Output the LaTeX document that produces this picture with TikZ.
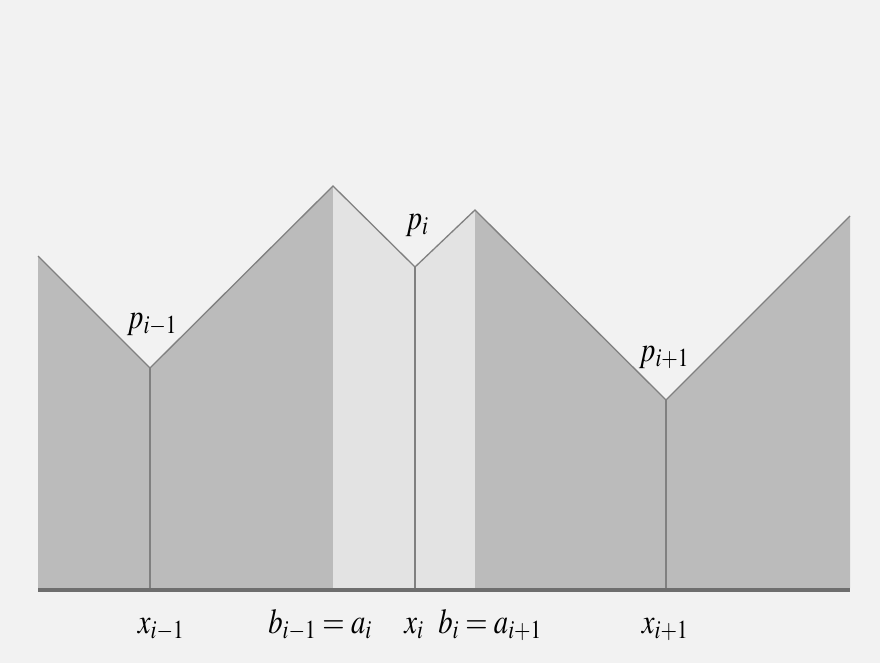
\documentclass[tikz,border=0pt]{standalone}
\usepackage{mathptmx}
\usepackage{graphicx}
\usepackage{tikz}
\usetikzlibrary{calc}
\usepackage{xcolor}
\definecolor{bggray}{RGB}{242,242,242}
\definecolor{darkfill}{RGB}{187,187,187}
\definecolor{lightfill}{RGB}{227,227,227}
\definecolor{edgegray}{RGB}{128,128,128}
\definecolor{axisgray}{RGB}{110,110,110}
\newcommand{\lbltext}[1]{\scalebox{0.82}[1]{$#1$}}
\tikzset{
  outline/.style={edgegray, line width=1.3pt, line join=miter},
  stem/.style={edgegray, line width=1.6pt},
  lbl/.style={anchor=base, inner sep=0pt, font=\fontsize{35}{40}\selectfont}
}

\begin{document}
\begin{tikzpicture}[x=1pt, y=-1pt]
  \fill[bggray] (0,0) rectangle (880,663);
  \useasboundingbox (0,0) rectangle (880,663);
  % vertices of the piecewise profile
  \coordinate (L) at (38,256);  \coordinate (pA) at (150,368);
  \coordinate (tA) at (333,186); \coordinate (pB) at (415,267);
  \coordinate (tB) at (475,210); \coordinate (pC) at (666,400);
  \coordinate (R) at (850,216);
  \coordinate (base) at (0,588);
  \fill[darkfill] (L |- base) -- (L) -- (pA) -- (tA) -- (tA |- base) -- cycle;
  \fill[lightfill] (tA |- base) -- (tA) -- (pB) -- (tB) -- (tB |- base) -- cycle;
  \fill[darkfill] (tB |- base) -- (tB) -- (pC) -- (R) -- (R |- base) -- cycle;
  \draw[outline] (L) -- (pA) -- (tA) -- (pB) -- (tB) -- (pC) -- (R);
  \foreach \v in {pA, pB, pC} {
    \draw[stem] (\v) -- (\v |- base);
  }
  \draw[axisgray, line width=4pt] (38,590) -- (850,590);
  % labels
  \node[lbl] (lpA) at (152,328) {\lbltext{p_{i-1}}};
  \node[lbl] (lpB) at (417,229) {\lbltext{p_{i}}};
  \node[lbl] (lpC) at (664,361) {\lbltext{p_{i+1}}};
  \node[lbl] (lxA) at (161,633) {\lbltext{x_{i-1}}};
  \node[lbl] (lba) at (320,633) {\lbltext{b_{i-1} = a_{i}}};
  \node[lbl] (lxB) at (414,633) {\lbltext{x_{i}}};
  \node[lbl] (lbb) at (490,633) {\lbltext{b_{i} = a_{i+1}}};
  \node[lbl] (lxC) at (665,633) {\lbltext{x_{i+1}}};
\end{tikzpicture}
\end{document}
